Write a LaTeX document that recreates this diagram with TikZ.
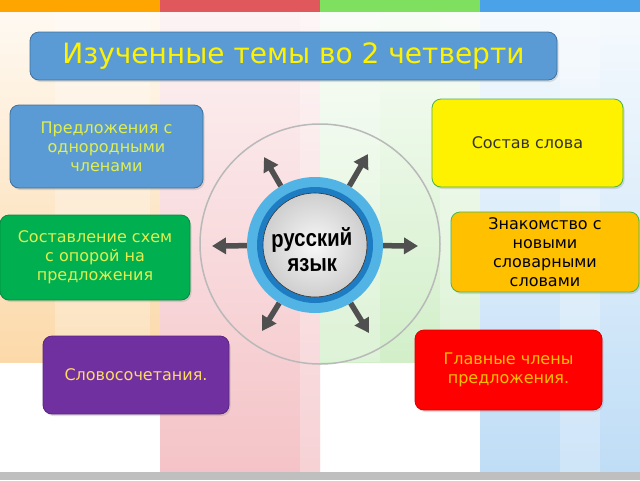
\documentclass[tikz,border=0pt]{standalone}
\usepackage{fontspec}
\setmainfont{DejaVu Sans}
\newfontfamily\corefont[FakeStretch=0.85]{Liberation Sans}
\usetikzlibrary{positioning,arrows.meta,shadows}

\definecolor{barorange}{HTML}{FFA500}
\definecolor{barred}{HTML}{E0585C}
\definecolor{bargreen}{HTML}{7FDF5F}
\definecolor{barblue}{HTML}{4AA3E8}
\definecolor{colorange}{HTML}{FCD9A9}
\definecolor{colpink}{HTML}{F4C3C7}
\definecolor{colgreen}{HTML}{D2EFC9}
\definecolor{colblue}{HTML}{BFDDF6}
\definecolor{titleblue}{HTML}{5B9BD5}
\definecolor{titleedge}{HTML}{41719C}
\definecolor{boxgreen}{HTML}{00B050}
\definecolor{boxorange}{HTML}{FFC000}
\definecolor{boxpurple}{HTML}{7030A0}
\definecolor{lemon}{HTML}{E0EE50}
\definecolor{gold}{HTML}{FFD966}
\definecolor{ringlight}{HTML}{52B4E4}
\definecolor{ringdark}{HTML}{1E7DC2}
\definecolor{raygrey}{HTML}{505050}

\begin{document}
\begin{tikzpicture}[
  x=1pt, y=-1pt,
  font=\fontsize{16}{19}\selectfont,
  topic/.style={draw, rounded corners=9pt, align=center, inner sep=3pt,
                line width=0.8pt,
                drop shadow={opacity=0.25, shadow xshift=1.5pt, shadow yshift=-2pt}},
  title/.style={topic, fill=titleblue, draw=titleedge, text=yellow,
                minimum width=527pt, minimum height=48pt,
                font=\fontsize{28}{32}\selectfont},
  core/.style={circle, minimum size=136pt, inner sep=0pt, fill=ringlight,
               path picture={
                 \fill[ringdark] (path picture bounding box.center) circle (58pt);
                 \shadedraw[inner color=gray!6, outer color=gray!38,
                   draw=gray!40!black, line width=0.6pt]
                   (path picture bounding box.center) circle (52pt);}},
  corelabel/.style={align=center, inner sep=0pt,
                    font=\corefont\bfseries\fontsize{24}{25}\selectfont},
  orbit/.style={circle, draw=gray!55, line width=1.5pt, minimum size=240pt},
  ray/.style={line width=5.5pt, draw=raygrey, -{Triangle[length=14pt,width=16pt]}},
  haze/.style={fill=white, fill opacity=0.25}
]
\useasboundingbox (0,0) rectangle (640,480);
\fill[white] (0,0) rectangle (640,480);

\shade[top color=colorange!15, bottom color=colorange] (0,12) rectangle (160,362);
\shade[top color=colpink!20, bottom color=colpink] (160,12) rectangle (320,472);
\shade[top color=colgreen!15, bottom color=colgreen] (320,12) rectangle (480,362);
\shade[top color=colblue!15, bottom color=colblue] (480,12) rectangle (640,472);
\fill[haze] (55,12) rectangle (150,362);
\fill[haze] (300,12) rectangle (320,472);
\fill[haze] (320,12) rectangle (380,362);
\fill[haze] (440,12) rectangle (480,362);
\fill[haze] (560,12) rectangle (600,472);

\fill[barorange] (0,0) rectangle (160,12);
\fill[barred] (160,0) rectangle (320,12);
\fill[bargreen] (320,0) rectangle (480,12);
\fill[barblue] (480,0) rectangle (640,12);
\fill[gray!50] (0,472) rectangle (640,480);

\node[title] (head) at (293.5,56) {Изученные темы во 2 четверти};

\node[orbit] (ring) at (320,244) {};
\node[core] (ru) at (315,245) {};
\node[corelabel, rotate=1] (rulabel) at (312,250) {русский\\язык};

\node[topic, fill=titleblue, draw=titleedge, text=lemon,
      minimum width=193pt, minimum height=83pt] (odnor) at (106.5,146.5)
      {Предложения с\\однородными\\членами};
\node[topic, fill=boxgreen, draw=boxgreen!80!black, text=lemon,
      minimum width=190pt, minimum height=85pt] (schem) at (95,257.5)
      {Составление схем\\с опорой на\\предложения};
\node[topic, fill=yellow, draw=gray!60!green, text=black!80,
      minimum width=191pt, minimum height=88pt] (sostav) at (527.5,143)
      {Состав слова};
\node[topic, fill=boxorange, draw=green!45!gray, text=black,
      minimum width=188pt, minimum height=80pt] (znak) at (545,252)
      {Знакомство с\\новыми\\словарными\\словами};
\node[topic, fill=boxpurple, draw=boxpurple!80!black, text=gold,
      minimum width=186pt, minimum height=78pt] (slovos) at (136,375)
      {Словосочетания.};
\node[topic, fill=red, draw=red!85!black, text=boxorange,
      minimum width=187pt, minimum height=80pt] (glav) at (508.5,370)
      {Главные члены\\предложения.};

\coordinate (tipW) at (212,246);
\coordinate (tipE) at (418,246);
\coordinate (tipNW) at (264,157);
\coordinate (tipNE) at (368,154);
\coordinate (tipSW) at (262,331);
\coordinate (tipSE) at (369,333);

\draw[ray] (ru) -- (tipW);
\draw[ray] (ru) -- (tipE);
\draw[ray] (ru) -- (tipNW);
\draw[ray] (ru) -- (tipNE);
\draw[ray] (ru) -- (tipSW);
\draw[ray] (ru) -- (tipSE);
\end{tikzpicture}
\end{document}
